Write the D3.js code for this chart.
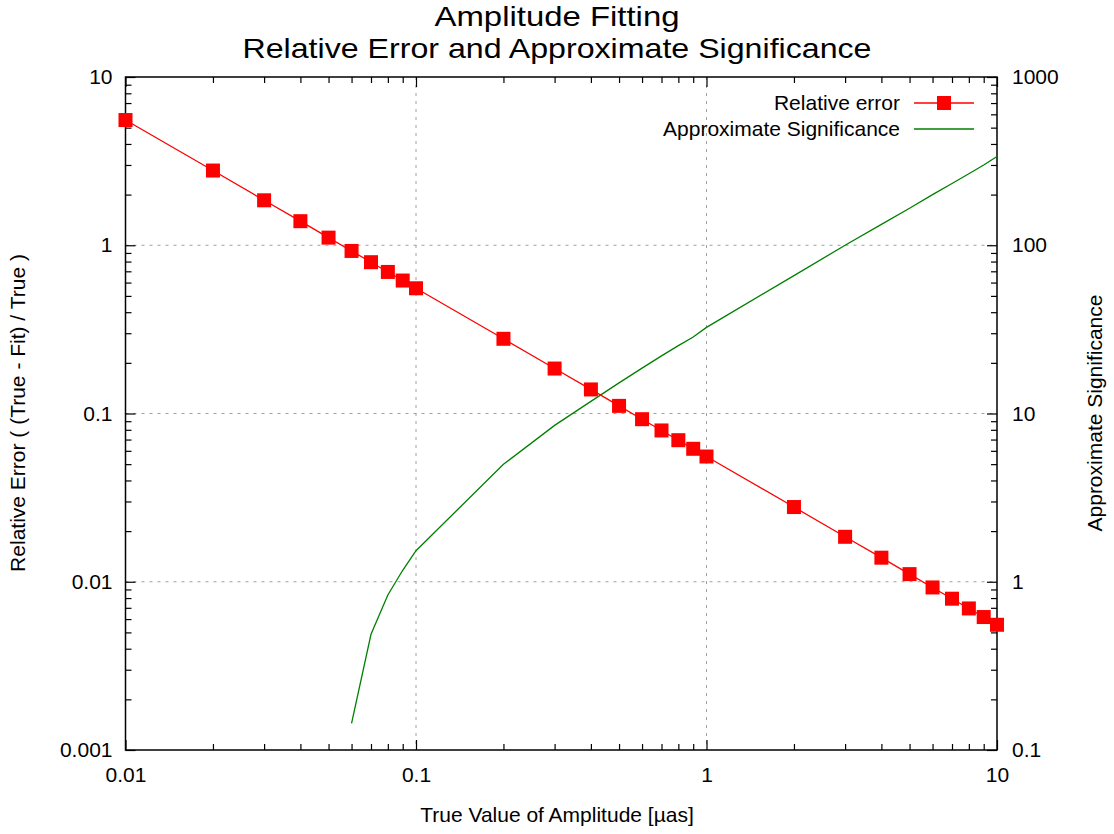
<!DOCTYPE html>
<html>
<head>
<meta charset="utf-8">
<script src="https://cdn.jsdelivr.net/npm/d3@7"></script>
<style>
  body { margin: 0; background: #fff; }
  text { font-family: "Liberation Sans", Arial, sans-serif; fill: #000; }
</style>
</head>
<body>
<div id="chart"></div>
<script>
// Relative error of the fitted amplitude
const amplitude = [0.01, 0.02, 0.03, 0.04, 0.05, 0.06, 0.07, 0.08, 0.09,
                   0.1, 0.2, 0.3, 0.4, 0.5, 0.6, 0.7, 0.8, 0.9,
                   1, 2, 3, 4, 5, 6, 7, 8, 9, 10];
const relError = [5.55, 2.78, 1.85, 1.39, 1.11, 0.925, 0.793, 0.694, 0.617,
                  0.555, 0.278, 0.185, 0.139, 0.111, 0.0925, 0.0793, 0.0694, 0.0617,
                  0.0555, 0.0278, 0.0185, 0.0139, 0.0111, 0.00925, 0.00793, 0.00694, 0.00617, 0.00555];

// Approximate significance (right axis)
const sigAmplitude = [0.06, 0.07, 0.08, 0.09, 0.1, 0.2, 0.3, 0.4, 0.5, 0.6, 0.7, 0.8, 0.9,
                      1, 2, 3, 4, 5, 6, 7, 8, 9, 10];
const significance = [0.144, 0.487, 0.834, 1.17, 1.53, 4.99, 8.5, 11.8, 15.2, 18.6, 22.0, 25.3, 28.5,
                      32.5, 66, 100, 133, 166, 200, 233, 266, 300, 337];

const xTickLabels = ['0.01', '0.1', '1', '10'];
const yTickLabels = ['0.001', '0.01', '0.1', '1', '10'];
const y2TickLabels = ['0.1', '1', '10', '100', '1000'];

const W = 1114, H = 834;
const margin = { top: 77, right: 117, bottom: 84, left: 125.5 };
const width = W - margin.left - margin.right;
const height = H - margin.top - margin.bottom;
const fs = '21px';

const svg = d3.select('#chart').append('svg')
    .attr('width', W)
    .attr('height', H);

const g = svg.append('g')
    .attr('transform', `translate(${margin.left},${margin.top})`);

const x = d3.scaleLog().domain([0.01, 10]).range([0, width]);
const y = d3.scaleLog().domain([0.001, 10]).range([height, 0]);
const y2 = d3.scaleLog().domain([0.1, 1000]).range([height, 0]);

// all 1..9 ticks for every decade of a log domain
function logTicks(lo, hi) {
    const out = [];
    for (let e = Math.round(Math.log10(lo)); e < Math.round(Math.log10(hi)); e++) {
        for (let m = 1; m < 10; m++) out.push(+(m * Math.pow(10, e)).toPrecision(3));
    }
    out.push(hi);
    return out;
}
const isMajor = v => Math.abs(Math.log10(v) - Math.round(Math.log10(v))) < 1e-9;

// grid
const grid = g.append('g').attr('stroke', '#a0a0a0').attr('stroke-dasharray', '3,5').attr('stroke-width', 1);
xTickLabels.map(Number).filter(v => v > 0.01 && v < 10).forEach(v => {
    grid.append('line').attr('x1', x(v)).attr('x2', x(v)).attr('y1', 0).attr('y2', height);
});
yTickLabels.map(Number).filter(v => v > 0.001 && v < 10).forEach(v => {
    grid.append('line').attr('x1', 0).attr('x2', width).attr('y1', y(v)).attr('y2', y(v));
});

function styleAxis(sel, showLabels) {
    sel.select('.domain').remove();
    sel.selectAll('.tick line').attr('stroke', '#000').attr('stroke-width', 1.2);
    sel.selectAll('.tick text')
        .style('font-size', fs)
        .style('font-family', '"Liberation Sans", Arial, sans-serif');
    if (!showLabels) sel.selectAll('.tick text').remove();
}

// bottom x axis
const xAxis = g.append('g')
    .attr('transform', `translate(0,${height})`)
    .call(d3.axisBottom(x).tickValues(logTicks(0.01, 10)).tickSize(-6).tickPadding(17)
        .tickFormat(d => isMajor(d) ? xTickLabels[Math.round(Math.log10(d)) + 2] : ''));
styleAxis(xAxis, true);
xAxis.selectAll('.tick').filter(d => isMajor(d)).select('line').attr('y2', -10);

// top mirror
const xTop = g.append('g')
    .call(d3.axisTop(x).tickValues(logTicks(0.01, 10)).tickSize(-6));
styleAxis(xTop, false);
xTop.selectAll('.tick').filter(d => isMajor(d)).select('line').attr('y2', 10);

// left y axis
const yAxis = g.append('g')
    .call(d3.axisLeft(y).tickValues(logTicks(0.001, 10)).tickSize(-6).tickPadding(13)
        .tickFormat(d => isMajor(d) ? yTickLabels[Math.round(Math.log10(d)) + 3] : ''));
styleAxis(yAxis, true);
yAxis.selectAll('.tick').filter(d => isMajor(d)).select('line').attr('x2', 10);

// right y2 axis
const y2Axis = g.append('g')
    .attr('transform', `translate(${width},0)`)
    .call(d3.axisRight(y2).tickValues(logTicks(0.1, 1000)).tickSize(-6).tickPadding(15)
        .tickFormat(d => isMajor(d) ? y2TickLabels[Math.round(Math.log10(d)) + 1] : ''));
styleAxis(y2Axis, true);
y2Axis.selectAll('.tick').filter(d => isMajor(d)).select('line').attr('x2', -10);

// border
g.append('rect')
    .attr('width', width).attr('height', height)
    .attr('fill', 'none').attr('stroke', '#000').attr('stroke-width', 1.5);

// significance line
const sigLine = d3.line().x(d => x(d[0])).y(d => y2(d[1]));
g.append('path')
    .datum(sigAmplitude.map((a, i) => [a, significance[i]]))
    .attr('fill', 'none').attr('stroke', '#008000').attr('stroke-width', 1.3)
    .attr('d', sigLine);

// relative error line + markers
const errLine = d3.line().x(d => x(d[0])).y(d => y(d[1]));
const errData = amplitude.map((a, i) => [a, relError[i]]);
g.append('path')
    .datum(errData)
    .attr('fill', 'none').attr('stroke', '#ff0000').attr('stroke-width', 1.3)
    .attr('d', errLine);
const ms = 14;
g.selectAll('.mk').data(errData).enter().append('rect')
    .attr('class', 'mk')
    .attr('x', d => x(d[0]) - ms / 2).attr('y', d => y(d[1]) - ms / 2)
    .attr('width', ms).attr('height', ms)
    .attr('fill', '#ff0000');

// legend
const legend = svg.append('g');
legend.append('text').attr('x', 900).attr('y', 110).attr('text-anchor', 'end')
    .style('font-size', fs).text('Relative error');
legend.append('line').attr('x1', 914).attr('x2', 974).attr('y1', 103).attr('y2', 103)
    .attr('stroke', '#ff0000').attr('stroke-width', 1.3);
legend.append('rect').attr('x', 944 - ms / 2).attr('y', 103 - ms / 2)
    .attr('width', ms).attr('height', ms).attr('fill', '#ff0000');
legend.append('text').attr('x', 900).attr('y', 136).attr('text-anchor', 'end')
    .style('font-size', fs).text('Approximate Significance');
legend.append('line').attr('x1', 914).attr('x2', 974).attr('y1', 129).attr('y2', 129)
    .attr('stroke', '#008000').attr('stroke-width', 1.3);

// titles (narrow, tall glyphs stretched to the original widths)
svg.append('text').attr('x', 557).attr('y', 26).attr('text-anchor', 'middle')
    .attr('textLength', 245).attr('lengthAdjust', 'spacingAndGlyphs')
    .style('font-size', '28px').text('Amplitude Fitting');
svg.append('text').attr('x', 557).attr('y', 58).attr('text-anchor', 'middle')
    .attr('textLength', 629).attr('lengthAdjust', 'spacingAndGlyphs')
    .style('font-size', '28px').text('Relative Error and Approximate Significance');

// axis labels
svg.append('text').attr('x', 557).attr('y', 822).attr('text-anchor', 'middle')
    .style('font-size', fs).text('True Value of Amplitude [µas]');
svg.append('text').attr('transform', 'translate(25,413) rotate(-90)').attr('text-anchor', 'middle')
    .style('font-size', fs).text('Relative Error ( (True - Fit) / True )');
svg.append('text').attr('transform', 'translate(1102,413) rotate(-90)').attr('text-anchor', 'middle')
    .style('font-size', fs).text('Approximate Significance');
</script>
</body>
</html>
